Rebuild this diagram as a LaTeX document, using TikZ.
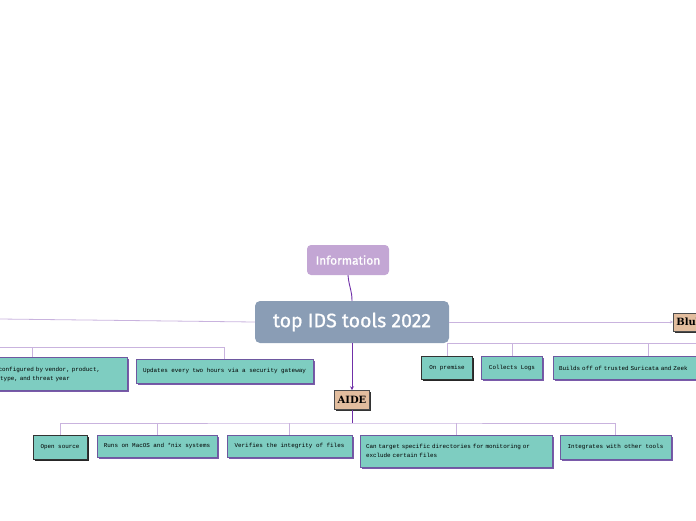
\documentclass[tikz,border=0pt]{standalone}
\usepackage{fontspec}
\setmainfont{Fira Sans}
\newfontfamily\titlefont{Fira Sans}[FakeBold=0.8]
\newfontfamily\leaffont{Liberation Mono}
\newfontfamily\toolfont{DejaVu Serif}
\usetikzlibrary{arrows.meta,shadows}
\definecolor{leafteal}{HTML}{7ECDC1}
\definecolor{leafedge}{HTML}{6E58A0}
\definecolor{leafshade}{HTML}{7A5AAA}
\definecolor{topgray}{HTML}{8A9DB5}
\definecolor{infolilac}{HTML}{C3A6D4}
\definecolor{tooltan}{HTML}{E2BD9E}
\definecolor{buslilac}{HTML}{C9B3DE}
\definecolor{mainpurple}{HTML}{7030A8}

\begin{document}
\begin{tikzpicture}[x=1pt,y=-1pt,
  leaf/.style={draw=leafedge,fill=leafteal,line width=0.7pt,inner sep=0pt,
    font=\leaffont\fontsize{5.9}{9}\selectfont,align=left,
    general shadow={fill=leafshade,shadow xshift=1.8pt,shadow yshift=-1.8pt}},
  leafdark/.style={leaf,draw=black!80,general shadow={fill=black!85,shadow xshift=1.8pt,shadow yshift=-1.8pt}},
  tool/.style={draw=black!70,fill=tooltan,line width=0.6pt,inner sep=2pt,
    font=\toolfont\bfseries\fontsize{10}{11}\selectfont,
    general shadow={fill=black!80,shadow xshift=1.5pt,shadow yshift=-1.5pt}},
  bus/.style={draw=buslilac,line width=0.8pt},
  main/.style={draw=mainpurple,line width=0.9pt}]
\useasboundingbox (0,0) rectangle (696,520);
\clip (0,0) rectangle (696,520);

% central topic and its callout
\node[fill=topgray,rounded corners=5pt,minimum width=194pt,minimum height=42pt,
  text=white,font=\titlefont\fontsize{19.5}{21}\selectfont] (top) at (352,322) {top IDS tools 2022};
\node[fill=infolilac,rounded corners=4pt,minimum width=82pt,minimum height=30pt,
  text=white,font=\titlefont\fontsize{12}{13}\selectfont] (info) at (348,260) {Information};
\draw[main] (info.south) .. controls (349,287) and (352,290) .. (top.north);

% tools
\node[tool,anchor=west,minimum height=18pt,inner xsep=3pt] (blu) at (673,322) {BluVector};
\node[tool,minimum height=19pt,minimum width=35pt] (aide) at (352,400) {AIDE};
\coordinate (lend) at (0,319);
\draw[bus] (top.west) -- (lend);
\draw[bus,-{Stealth[length=3pt,width=3pt]}] (top.east) -- (blu.west);
\draw[main,-{Stealth[length=4pt,width=4pt]}] (top.south) -- (aide.north);

% left tool (off page)
\node[leaf,minimum width=156pt,minimum height=33pt,text width=144pt] (cfg) at (49,374)
  {Can be configured by vendor, product,\\attack type, and threat year};
\node[leaf,minimum width=177pt,minimum height=24pt,align=center] (upd) at (224.5,371)
  {Updates every two hours via a security gateway};
\coordinate (lbus) at (0,347);
\coordinate (cfgin) at (32,347);
\draw[bus] (lbus) -- (lbus -| upd.north) -- (upd.north);
\draw[bus] (cfgin) -- (cfgin |- cfg.north);

% BluVector
\node[leafdark,minimum width=51pt,minimum height=23pt,align=center] (onprem) at (447,368) {On premise};
\node[leaf,minimum width=61pt,minimum height=23pt,align=center] (logs) at (512,368) {Collects Logs};
\node[leaf,minimum width=190pt,minimum height=23pt,text width=178pt] (builds) at (648,368)
  {Builds off of trusted Suricata and Zeek};
\coordinate (rbus) at (700,343);
\draw[bus] (onprem.north) |- (rbus);
\foreach \n in {logs,builds}{\draw[bus] (\n.north) -- (\n.north |- rbus);}

% AIDE
\node[leafdark,minimum width=54pt,minimum height=24pt,align=center] (os) at (60,447) {Open source};
\node[leaf,minimum width=120pt,minimum height=22pt,align=center] (runs) at (157,446) {Runs on MacOS and *nix systems};
\node[leaf,minimum width=125pt,minimum height=22pt,align=center] (verify) at (289.5,446) {Verifies the integrity of files};
\node[leaf,minimum width=192pt,minimum height=32pt,text width=180pt] (target) at (456,451)
  {Can target specific directories for monitoring or\\exclude certain files};
\node[leaf,minimum width=111pt,minimum height=24pt,align=center] (integ) at (615.5,447) {Integrates with other tools};
\coordinate (abus) at (352,423);
\draw[bus] (os.north) |- (abus) -| (integ.north);
\foreach \n in {runs,verify,target}{\draw[bus] (\n.north) -- (\n.north |- abus);}
\draw[main] (aide.south) -- (abus);
\end{tikzpicture}
\end{document}
